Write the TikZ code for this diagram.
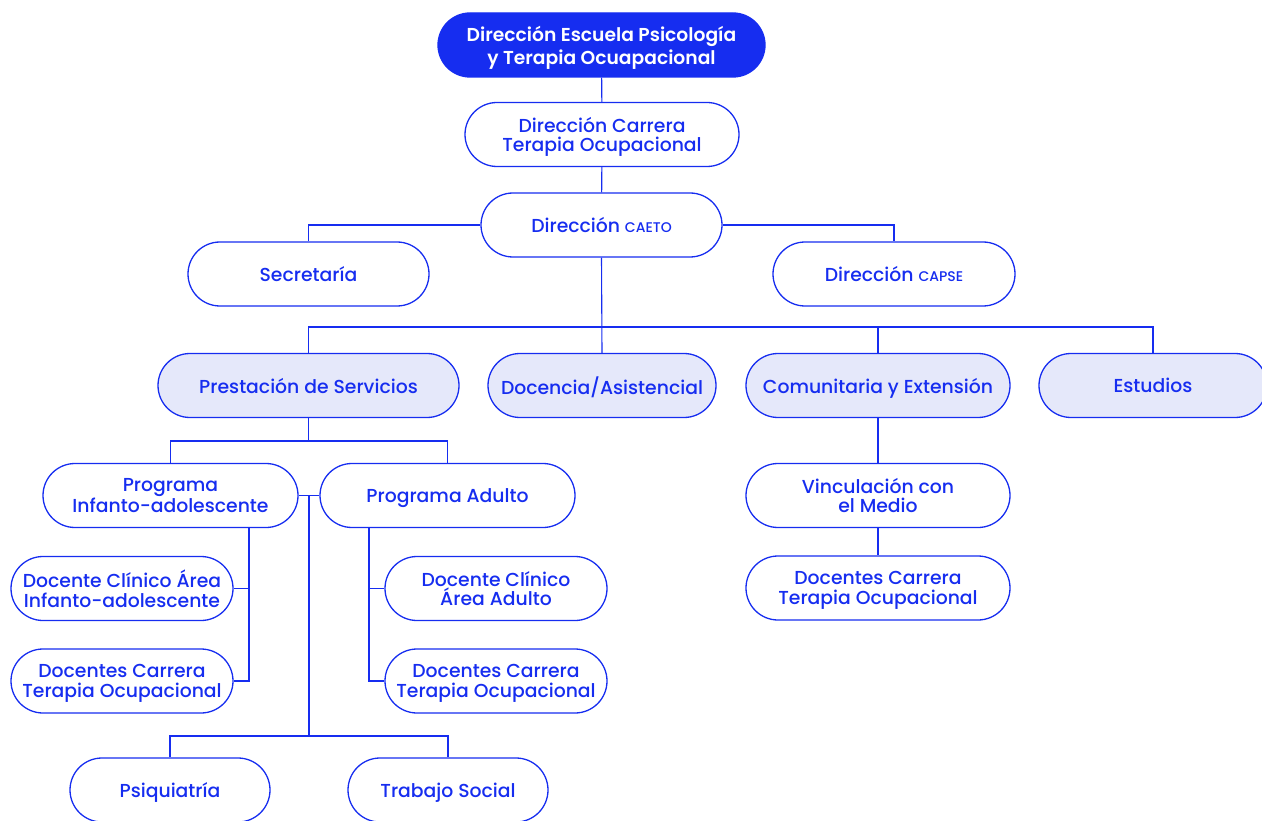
\documentclass[tikz,border=0pt]{standalone}
\usepackage{fontspec}
\setmainfont{Poppins}[UprightFont=* Medium, BoldFont=* SemiBold]
\definecolor{orgblue}{RGB}{22,45,240}
\definecolor{orglight}{RGB}{229,232,250}
\newcommand{\smallcap}[1]{{\fontsize{14}{14}\selectfont #1}}

\begin{document}
\begin{tikzpicture}[x=1pt,y=-1pt,
  unit/.style={draw=orgblue, line width=1.3pt, rounded corners=32pt, minimum height=64pt,
    inner sep=2pt, align=center, text depth=0pt, text=orgblue, fill=white, font=\fontsize{18.8}{19.5}\selectfont},
  area/.style={unit, fill=orglight},
  head/.style={unit, fill=orgblue, text=white, text depth=-2pt, font=\fontsize{18.7}{23}\selectfont\bfseries},
  link/.style={draw=orgblue, line width=1.1pt}]
\useasboundingbox (0,0) rectangle (1262,821);

% top levels
\node[head, minimum width=327pt] at (601.5,45) (escuela){Dirección Escuela Psicología\\y Terapia Ocuapacional};
\node[unit, minimum width=274pt] at (602,134.5) (carrera){Dirección Carrera\\Terapia Ocupacional};
\node[unit, minimum width=241pt] at (601.5,225) (caeto){Dirección \smallcap{CAETO}};
\node[unit, minimum width=241pt] at (308.5,274) (secre){Secretaría};
\node[unit, minimum width=242pt] at (894,274) (capse){Dirección \smallcap{CAPSE}};

% areas
\node[area, minimum width=301pt] at (308.5,385.5) (prest){Prestación de Servicios};
\node[area, minimum width=228pt] at (602,385.5) (docen){Docencia/Asistencial};
\node[area, minimum width=264pt] at (878,385.5) (comun){Comunitaria y Extensión};
\node[area, minimum width=228pt] at (1153,385.5) (estud){Estudios};

% programas
\node[unit, minimum width=255pt] at (170.5,495.5) (progia){Programa\\Infanto-adolescente};
\node[unit, minimum width=255pt] at (447.5,495.5) (progad){Programa Adulto};
\node[unit, minimum width=222pt] at (122,588.5) (clinia){Docente Clínico Área\\Infanto-adolescente};
\node[unit, minimum width=222pt] at (122,681) (docia){Docentes Carrera\\Terapia Ocupacional};
\node[unit, minimum width=222pt] at (496,588.5) (clinad){Docente Clínico\\Área Adulto};
\node[unit, minimum width=222pt] at (496,681) (docad){Docentes Carrera\\Terapia Ocupacional};
\node[unit, minimum width=200pt] at (170,790) (psiq){Psiquiatría};
\node[unit, minimum width=200pt] at (448,790) (trab){Trabajo Social};

% comunitaria
\node[unit, minimum width=264pt] at (878,495.5) (vinc){Vinculación con\\el Medio};
\node[unit, minimum width=264pt] at (878,588) (docvin){Docentes Carrera\\Terapia Ocupacional};

\coordinate (bus) at (602,327); % main bus
\coordinate (pbus) at (308.5,441);
\coordinate (mid) at (309,496);
\coordinate (lbus) at (309,736);

\draw[link] (escuela) -- (carrera);
\draw[link] (carrera) -- (caeto);
\draw[link] (caeto.west) -| (secre.north);
\draw[link] (caeto.east) -| (capse.north);
\draw[link] (caeto.south) -- (docen.north);
\draw[link] (prest.north) |- (bus) -| (estud.north);
\draw[link] (comun.north) -- (comun.north |- bus);
\draw[link] (prest.south) -- (pbus);
\draw[link] (progia.north) |- (pbus) -| (progad.north);
\draw[link] (progia.east) -- (progad.west);
\draw[link] (mid) -- (lbus);
\draw[link] (psiq.north) |- (lbus) -| (trab.north);
\draw[link] ([xshift=78.5pt]progia.south) |- (clinia.east);
\draw[link] ([xshift=78.5pt]progia.south) |- (docia.east);
\draw[link] ([xshift=-78.5pt]progad.south) |- (clinad.west);
\draw[link] ([xshift=-78.5pt]progad.south) |- (docad.west);
\draw[link] (comun) -- (vinc);
\draw[link] (vinc) -- (docvin);
\end{tikzpicture}
\end{document}
